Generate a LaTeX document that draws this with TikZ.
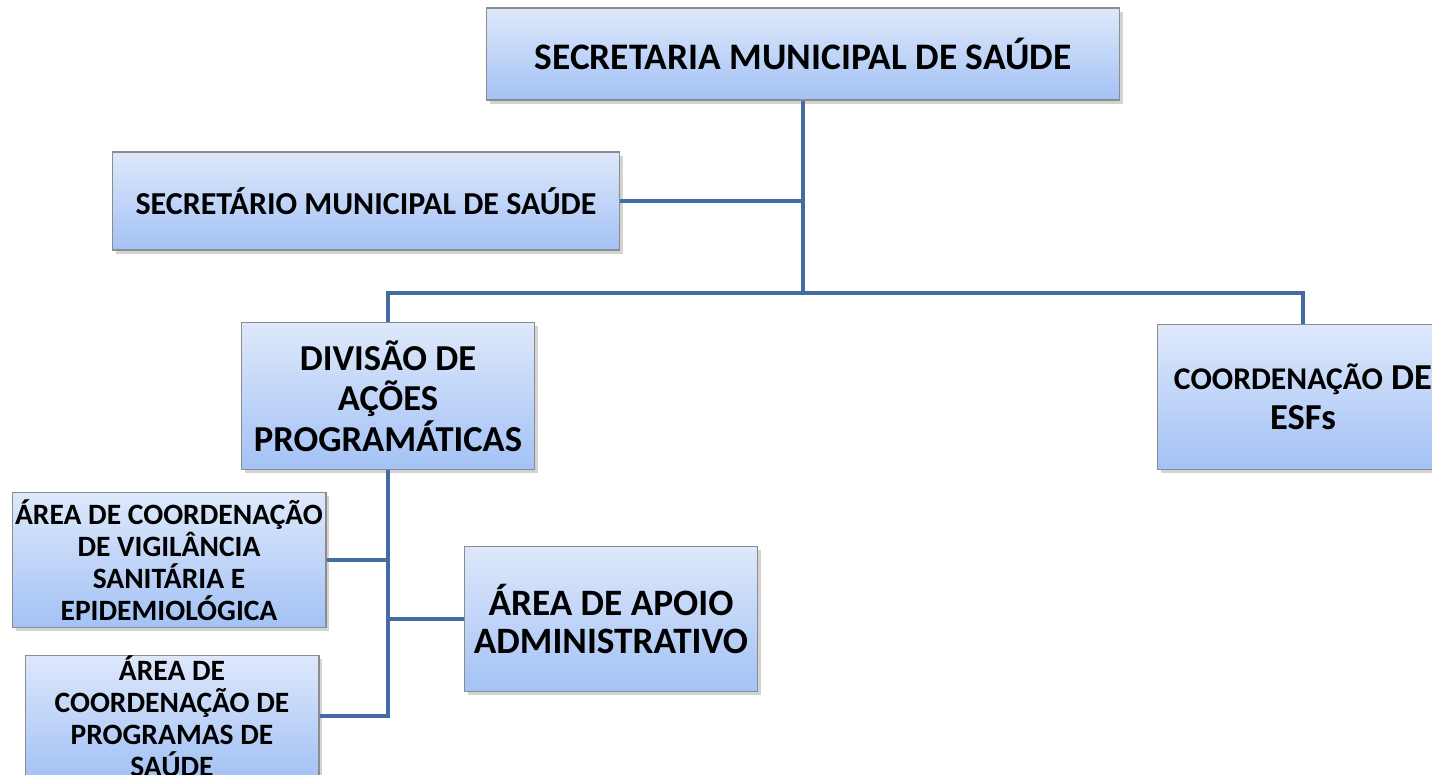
\documentclass[tikz,border=0pt]{standalone}
\usepackage{fontspec}
\setmainfont{Carlito}
\usetikzlibrary{shadows,positioning}
\definecolor{topo}{RGB}{222,232,251}
\definecolor{base}{RGB}{163,194,245}
\definecolor{linha}{RGB}{68,108,163}

\begin{document}
\begin{tikzpicture}[x=0.02cm,y=-0.02cm]
\tikzstyle{caixa}=[rectangle,draw=black!45,line width=0.6pt,top color=topo,bottom color=base,
                   drop shadow={shadow xshift=2pt,shadow yshift=-2pt,opacity=0.35},align=center,inner sep=0pt]
\tikzstyle{ligacao}=[draw=linha,line width=2.3pt]
\tikzstyle{grande}=[font=\bfseries\fontsize{20.8}{23}\selectfont]
\tikzstyle{pequeno}=[font=\bfseries\fontsize{16.8}{18.2}\selectfont]

\useasboundingbox (0,0) rectangle (1432,774);

\node[caixa,font=\bfseries\fontsize{21.3}{24}\selectfont,minimum width=12.68cm,minimum height=1.84cm] (secretaria) at (803,54) {SECRETARIA MUNICIPAL DE SAÚDE};
\node[caixa,font=\bfseries\fontsize{18.2}{21}\selectfont,minimum width=10.16cm,minimum height=1.96cm] (secretario) at (366,201) {SECRETÁRIO MUNICIPAL DE SAÚDE};

\node[caixa,grande,minimum width=5.86cm,minimum height=2.94cm] (divisao) at (388,396) {DIVISÃO DE\\AÇÕES\\PROGRAMÁTICAS};
\node[caixa,grande,minimum width=5.84cm,minimum height=2.9cm] (coord_esf) at (1303,397) {{\fontsize{18}{21}\selectfont COORDENAÇÃO} DE\\ESFs};

\node[caixa,pequeno,minimum width=6.28cm,minimum height=2.7cm] (area_vigilancia) at (169,560) {ÁREA DE COORDENAÇÃO\\DE VIGILÂNCIA\\SANITÁRIA E\\EPIDEMIOLÓGICA};
\node[caixa,pequeno,minimum width=5.88cm,minimum height=2.24cm] (area_programas) at (172,716) {ÁREA DE\\COORDENAÇÃO DE\\PROGRAMAS DE\\SAÚDE};
\node[caixa,font=\bfseries\fontsize{21.2}{22}\selectfont,minimum width=5.86cm,minimum height=2.9cm] (area_apoio) at (611,619) {ÁREA DE APOIO\\ADMINISTRATIVO};

\coordinate (ramo) at (803,293);

\draw[ligacao] (secretaria.south) -- (ramo);
\draw[ligacao] (secretario.east) -- (secretario.east -| ramo);
\draw[ligacao] (divisao.north) |- (ramo) -| (coord_esf.north);
\draw[ligacao] (divisao.south) |- (area_programas.east);
\draw[ligacao] (area_vigilancia.east) -- (area_vigilancia.east -| divisao.south);
\draw[ligacao] (area_apoio.west) -- (area_apoio.west -| divisao.south);
\end{tikzpicture}
\end{document}
